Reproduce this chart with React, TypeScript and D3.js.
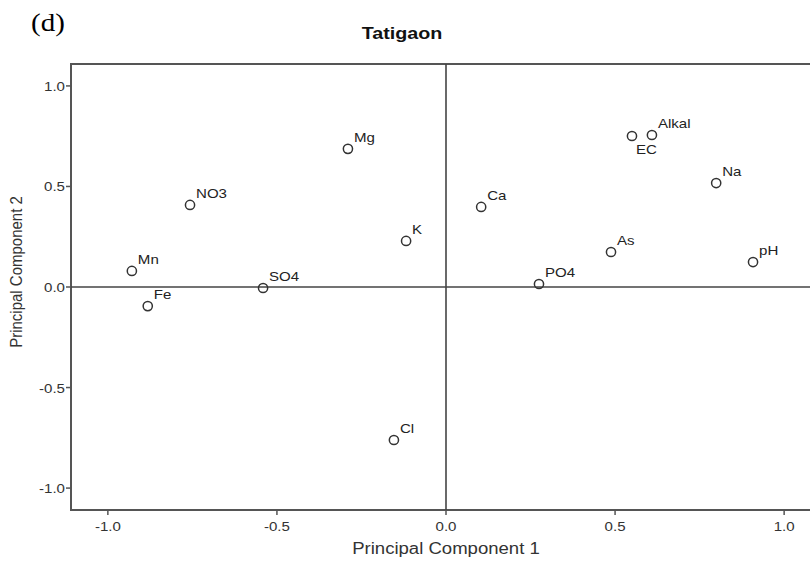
import React from "react";
import * as d3 from "d3";

// Component loadings for Tatigaon
const variables = ["Mn", "Fe", "NO3", "SO4", "Mg", "K", "Cl", "Ca", "PO4", "As", "EC", "Alkal", "Na", "pH"];
const pc1 = [-0.929, -0.882, -0.757, -0.541, -0.290, -0.118, -0.154, 0.104, 0.275, 0.488, 0.550, 0.609, 0.799, 0.908];
const pc2 = [0.080, -0.095, 0.408, -0.005, 0.687, 0.229, -0.761, 0.398, 0.015, 0.174, 0.751, 0.756, 0.517, 0.124];
const tickValues = [-1.0, -0.5, 0.0, 0.5, 1.0];

const W = 810;
const H = 566;
const left = 71;
const top = 64;
const bottom = 510;
const right = 821;
const SX = 1.16; // horizontal widening of the glyphs

type TProps = {
  x: number;
  y: number;
  size: number;
  anchor?: "start" | "middle" | "end";
  weight?: string;
  family?: string;
  fill?: string;
  children: React.ReactNode;
};

function WideText({ x, y, size, anchor = "start", weight = "normal", family, fill = "#222", children }: TProps) {
  return (
    <text
      transform={`translate(${x},${y}) scale(${SX},1)`}
      fontSize={size}
      textAnchor={anchor}
      fontWeight={weight}
      fontFamily={family}
      fill={fill}
    >
      {children}
    </text>
  );
}

export default function App() {
  const x = d3.scaleLinear().domain([-1.109, 1.109]).range([left, right]);
  const y = d3.scaleLinear().domain([-1.109, 1.109]).range([bottom, top]);
  const fmt = (v: number) => d3.format(".1f")(v).replace("\u2212", "-");
  const font = "'Liberation Sans', Arial, sans-serif";
  const axisColor = "#555";

  return (
    <svg
      width={W}
      height={H}
      style={{ position: "absolute", left: 0, top: 0, background: "#fff" }}
      fontFamily={font}
    >
      <WideText x={31} y={31} size={25} family="'Liberation Serif', 'Times New Roman', serif" fill="#000">
        (d)
      </WideText>
      <WideText x={402} y={39} size={17} anchor="middle" weight="bold" fill="#111">
        Tatigaon
      </WideText>

      {/* plot frame */}
      <rect x={left} y={top} width={right - left} height={bottom - top} fill="none" stroke={axisColor} strokeWidth={2} />

      {/* reference lines through the origin */}
      <line x1={x(0)} x2={x(0)} y1={top} y2={bottom} stroke="#444" strokeWidth={1.6} />
      <line x1={left} x2={right} y1={y(0)} y2={y(0)} stroke="#444" strokeWidth={1.6} />

      {/* x ticks */}
      {tickValues.map((t) => (
        <g key={"x" + t}>
          <line x1={x(t)} x2={x(t)} y1={bottom} y2={bottom + 5} stroke={axisColor} strokeWidth={1.5} />
          <WideText x={x(t)} y={bottom + 21} size={13} anchor="middle" fill="#333">
            {fmt(t)}
          </WideText>
        </g>
      ))}

      {/* y ticks */}
      {tickValues.map((t) => (
        <g key={"y" + t}>
          <line x1={left - 5} x2={left} y1={y(t)} y2={y(t)} stroke={axisColor} strokeWidth={1.5} />
          <WideText x={left - 6} y={y(t) + 5} size={13} anchor="end" fill="#333">
            {fmt(t)}
          </WideText>
        </g>
      ))}

      <WideText x={446} y={554} size={16} anchor="middle" fill="#333">
        Principal Component 1
      </WideText>
      <text transform={`translate(22, 272) rotate(-90) scale(1,${SX})`} textAnchor="middle" fontSize={15} fill="#333">
        Principal Component 2
      </text>

      {/* loading points */}
      {variables.map((v, i) => {
        const cx = x(pc1[i]);
        const cy = y(pc2[i]);
        const below = v === "EC";
        return (
          <g key={v}>
            <circle cx={cx} cy={cy} r={4.6} fill="none" stroke="#333" strokeWidth={1.5} />
            <WideText x={below ? cx + 4 : cx + 6} y={below ? cy + 18 : cy - 7} size={13} fill="#222">
              {v}
            </WideText>
          </g>
        );
      })}
    </svg>
  );
}
